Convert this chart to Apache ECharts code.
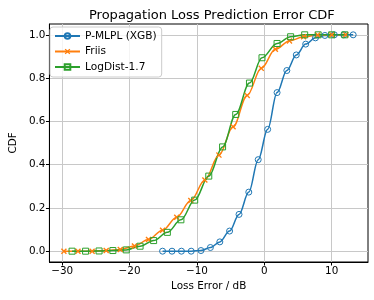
<!DOCTYPE html>
<html>
<head>
<meta charset="utf-8">
<script src="https://cdn.jsdelivr.net/npm/echarts@6/dist/echarts.min.js"></script>
<style>html,body{margin:0;padding:0;background:#fff}#c{width:374px;height:300px}</style>
</head>
<body>
<div id="c"></div>
<script>
// Data
const mlplX = [-15.1, -13.7, -12.3, -10.85, -9.4, -8.0, -6.6, -5.15, -3.75, -2.3, -0.9, 0.5, 1.9, 3.35, 4.75, 6.15, 7.6, 9.0, 10.4, 11.8, 13.2];
const mlplY = [0, 0, 0, 0, 0.003, 0.017, 0.043, 0.093, 0.17, 0.273, 0.423, 0.563, 0.733, 0.835, 0.907, 0.957, 0.986, 0.997, 1.0, 1.0, 1.0];
const friisX = [-29.75, -27.66, -25.56, -23.47, -21.38, -19.28, -17.19, -15.10, -13.0, -10.91, -8.82, -6.73, -4.63, -2.54, -0.45, 1.65, 3.74, 5.83, 7.93, 10.02, 12.1];
const friisY = [0, 0, 0, 0.003, 0.008, 0.024, 0.054, 0.097, 0.157, 0.234, 0.329, 0.444, 0.575, 0.720, 0.845, 0.933, 0.972, 0.991, 0.999, 1.0, 1.0];
const logX = [-28.54, -26.53, -24.53, -22.48, -20.49, -18.44, -16.43, -14.39, -12.38, -10.33, -8.24, -6.19, -4.24, -2.20, -0.34, 1.90, 3.91, 6.0, 8.0, 10.0, 11.96];
const logY = [0, 0, 0.001, 0.003, 0.006, 0.023, 0.049, 0.087, 0.145, 0.236, 0.347, 0.482, 0.632, 0.777, 0.894, 0.960, 0.991, 1.0, 1.0, 1.0, 1.0];
const xTicks = [-30, -20, -10, 0, 10];
const yTicks = [0, 0.2, 0.4, 0.6, 0.8, 1.0];
const seriesNames = ['P-MLPL (XGB)', 'Friis', 'LogDist-1.7'];

const zip = (xs, ys) => xs.map((x, i) => [x, ys[i]]);
const FONT = 'DejaVu Sans';
const xPath = 'path://M0,1.6L1.6,0L5,3.4L8.4,0L10,1.6L6.6,5L10,8.4L8.4,10L5,6.6L1.6,10L0,8.4L3.4,5Z';

const chart = echarts.init(document.getElementById('c'), null, {renderer: 'canvas'});
function mk(name, data, color, symbol, size, hollow) {
  return {
    name, type: 'line', data,
    smooth: 0.35, smoothMonotone: 'x',
    symbol, symbolSize: size, showAllSymbol: true,
    lineStyle: {color, width: 1.5},
    itemStyle: hollow ? {color: 'rgba(255,255,255,0)', borderColor: color, borderWidth: 1} : {color, borderWidth: 0},
    emphasis: {disabled: true},
    animation: false, z: 3
  };
}
chart.setOption({
  animation: false,
  backgroundColor: '#fff',
  title: {text: 'Propagation Loss Prediction Error CDF', left: 84, top: 4,
    textStyle: {fontFamily: FONT, fontSize: 13, fontWeight: 'normal', color: '#000'}},
  grid: {left: 44, right: 6, top: 24, bottom: 38, show: true, borderColor: '#000', borderWidth: 1, backgroundColor: 'rgba(0,0,0,0)'},
  legend: {
    orient: 'vertical', left: 50, top: 27,
    data: seriesNames,
    backgroundColor: 'rgba(255,255,255,0.8)', borderColor: '#cccccc', borderWidth: 1, borderRadius: 3,
    padding: [3, 5, 4, 4], itemGap: 3.5, itemWidth: 25, itemHeight: 7,
    textStyle: {fontFamily: FONT, fontSize: 10.6, color: '#000', lineHeight: 12}
  },
  xAxis: {
    type: 'value', min: -31.9, max: 15.4,
    name: 'Loss Error / dB', nameLocation: 'middle', nameGap: 19,
    nameTextStyle: {fontFamily: FONT, fontSize: 10.4, color: '#000'},
    axisLine: {show: true, onZero: false, lineStyle: {color: '#000', width: 1}},
    axisTick: {show: true, length: 3.5, lineStyle: {color: '#000'}, customValues: xTicks},
    axisLabel: {customValues: xTicks, fontFamily: FONT, fontSize: 10.4, color: '#000', margin: 4,
      formatter: v => (v < 0 ? '\u2212' + Math.abs(v) : String(v))},
    splitLine: {show: true, lineStyle: {color: '#c8c8c8', width: 1}}
  },
  yAxis: {
    type: 'value', min: -0.05, max: 1.05,
    name: 'CDF', nameLocation: 'middle', nameGap: 29, nameRotate: 90,
    nameTextStyle: {fontFamily: FONT, fontSize: 10.4, color: '#000'},
    axisLine: {show: true, onZero: false, lineStyle: {color: '#000', width: 1}},
    axisTick: {show: true, length: 3.5, lineStyle: {color: '#000'}, customValues: yTicks},
    axisLabel: {customValues: yTicks, fontFamily: FONT, fontSize: 10.4, color: '#000', margin: 4,
      formatter: v => v.toFixed(1)},
    splitLine: {show: true, lineStyle: {color: '#c8c8c8', width: 1}}
  },
  series: [
    mk(seriesNames[0], zip(mlplX, mlplY), '#1f77b4', 'circle', 6, true),
    mk(seriesNames[1], zip(friisX, friisY), '#ff7f0e', xPath, 6, false),
    mk(seriesNames[2], zip(logX, logY), '#2ca02c', 'rect', 6, true)
  ]
});
</script>
</body>
</html>
